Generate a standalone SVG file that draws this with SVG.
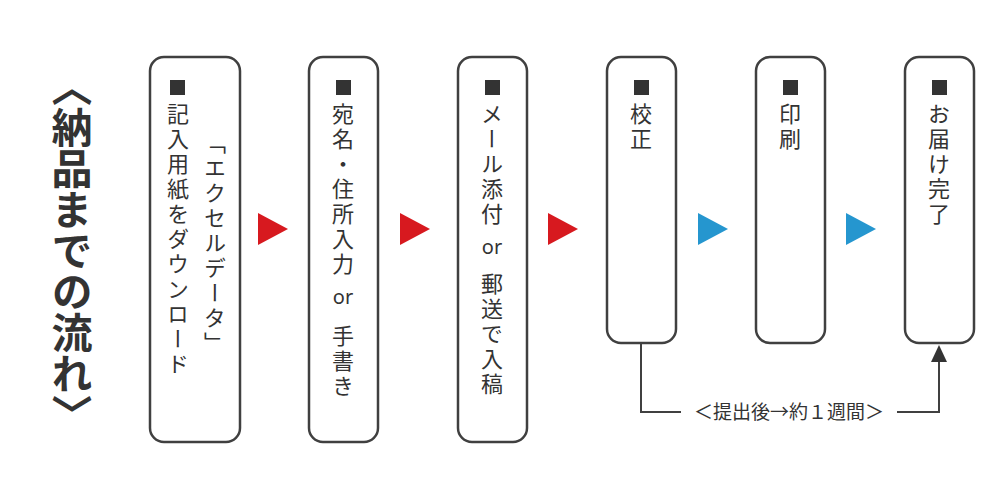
<svg xmlns="http://www.w3.org/2000/svg" width="1000" height="500" viewBox="0 0 1000 500">
<style>
.box{fill:#fff;stroke:#404040;stroke-width:2.5}
.v{font-family:"Noto Sans CJK JP","Noto Sans",sans-serif;font-size:22px;fill:#333;writing-mode:vertical-rl;letter-spacing:3px}
.h{font-family:"Noto Sans","Noto Sans CJK JP",sans-serif;font-size:20px;fill:#333;text-anchor:middle}
.sq{fill:#333}
.r{fill:#d7191f}.b{fill:#2596cf}
</style>
<rect width="1000" height="500" fill="#fff"/>
<text x="72" y="66" style="font-family:'Noto Sans CJK JP',sans-serif;font-weight:bold;font-size:41px;fill:#333;writing-mode:vertical-rl">〈納品までの流れ〉</text>
<g id="n1"><rect class="box" x="150" y="57" width="90" height="385" rx="14"/><rect class="sq" x="170" y="80" width="15" height="15"/>
<text class="v" x="178" y="103">記入用紙をダウンロード</text><text class="v" x="215" y="132">「エクセルデータ」</text></g>
<g id="n2"><rect class="box" x="309" y="57" width="69" height="385" rx="14"/><rect class="sq" x="336" y="80" width="15" height="15"/>
<text class="v" x="343" y="103">宛名・住所入力</text><text class="h" x="343" y="304">or</text><text class="v" x="343" y="325">手書き</text></g>
<g id="n3"><rect class="box" x="458" y="57" width="69" height="385" rx="14"/><rect class="sq" x="485" y="80" width="15" height="15"/>
<text class="v" x="492" y="103">メール添付</text><text class="h" x="492" y="254">or</text><text class="v" x="492" y="273">郵送で入稿</text></g>
<g id="n4"><rect class="box" x="607" y="57" width="69" height="286" rx="14"/><rect class="sq" x="634" y="80" width="15" height="15"/>
<text class="v" x="641" y="103">校正</text></g>
<g id="n5"><rect class="box" x="756" y="57" width="69" height="286" rx="14"/><rect class="sq" x="783" y="80" width="15" height="15"/>
<text class="v" x="790" y="103">印刷</text></g>
<g id="n6"><rect class="box" x="905" y="57" width="69" height="286" rx="14"/><rect class="sq" x="932" y="80" width="15" height="15"/>
<text class="v" x="939" y="103">お届け完了</text></g>
<g id="connectors">
<polygon class="r" points="258,213 288,229 258,245"/>
<polygon class="r" points="400,213 430,229 400,245"/>
<polygon class="r" points="548,213 578,229 548,245"/>
<polygon class="b" points="698,213 728,229 698,245"/>
<polygon class="b" points="846,213 876,229 846,245"/>
<polyline points="641,343 641,412 681,412" fill="none" stroke="#404040" stroke-width="2"/>
<polyline points="897,412 939,412 939,360" fill="none" stroke="#404040" stroke-width="2"/>
<polygon points="939,345 931,362 947,362" fill="#333"/>
<text x="789" y="419" style="font-family:'Noto Sans CJK JP',sans-serif;font-size:19px;fill:#333;text-anchor:middle">＜提出後→約１週間＞</text>
</g>
</svg>
